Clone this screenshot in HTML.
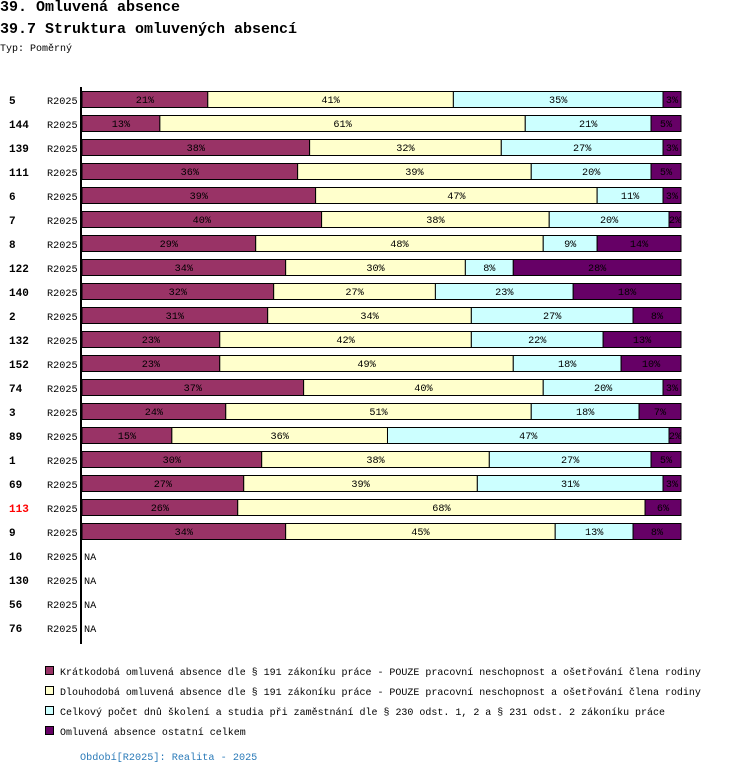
<!DOCTYPE html>
<html><head><meta charset="utf-8"><style>
body{margin:0;width:750px;height:774px;background:#fff;font-family:"Liberation Mono","DejaVu Sans Mono",monospace;position:relative;overflow:hidden}
.t{position:absolute;white-space:nowrap;color:#000}
</style></head><body>
<div class="t" style="left:0;top:-1px;font-size:15px;font-weight:bold">39. Omluvená absence</div>
<div class="t" style="left:0;top:21px;font-size:15px;font-weight:bold">39.7 Struktura omluvených absencí</div>
<div class="t" style="left:0;top:44px;font-size:10px">Typ: Poměrný</div>
<svg id="chart" width="750" height="774" style="position:absolute;left:0;top:0;font-family:'Liberation Mono',monospace;font-size:10.2px"></svg>
<script>
const categories=["5","144","139","111","6","7","8","122","140","2","132","152","74","3","89","1","69","113","9","10","130","56","76"];
const seriesShort=[21,13,38,36,39,40,29,34,32,31,23,23,37,24,15,30,27,26,34,null,null,null,null];
const seriesLong=[41,61,32,39,47,38,48,30,27,34,42,49,40,51,36,38,39,68,45,null,null,null,null];
const seriesTraining=[35,21,27,20,11,20,9,8,23,27,22,18,20,18,47,27,31,0,13,null,null,null,null];
const seriesOther=[3,5,3,5,3,2,14,28,18,8,13,10,3,7,2,5,3,6,8,null,null,null,null];
const colors=["#993366","#ffffcc","#ccffff","#660066"];
const highlight="113";
const svg=document.getElementById('chart');
const NS="http://www.w3.org/2000/svg";
const x0=82,x1=681;
const xs=v=>x0+(x1-x0)*v/100;
const yRow=i=>99+24*i;
function mk(tag,attrs){const e=document.createElementNS(NS,tag);for(const k in attrs)e.setAttribute(k,attrs[k]);svg.appendChild(e);return e;}
const axis=mk('line',{x1:81,x2:81,y1:87,y2:644,stroke:'#000','stroke-width':2});


const series=[seriesShort,seriesLong,seriesTraining,seriesOther];
categories.forEach((c,i)=>{
  const y=yRow(i);
  const lab=mk('text',{x:9,y:y+5,'font-weight':'bold',fill:c===highlight?'#ff0000':'#000','font-size':'11px'});
  lab.textContent=c;
  
  
  const per=mk('text',{x:47,y:y+5,fill:'#000'});
  per.textContent="R2025";
  
  
  if(seriesShort[i]===null){
    const na=mk('text',{x:84,y:y+5,fill:'#000'});na.textContent="NA";
    
    
    return;
  }
  let acc=0;
  series.forEach((s,k)=>{
    const v=s[i];if(!v){return;}
    const a=xs(acc),b=xs(acc+v);acc+=v;
    const r=mk('rect',{x:a,y:y-7.5,width:b-a,height:16,fill:colors[k],stroke:'#000','stroke-width':1});
    
    
    const t=mk('text',{x:(a+b)/2,y:y+4,'text-anchor':'middle',fill:'#000'});
    t.textContent=v+"%";
    
    
  });
});
const legend=["Krátkodobá omluvená absence dle § 191 zákoníku práce - POUZE pracovní neschopnost a ošetřování člena rodiny","Dlouhodobá omluvená absence dle § 191 zákoníku práce - POUZE pracovní neschopnost a ošetřování člena rodiny","Celkový počet dnů školení a studia při zaměstnání dle § 230 odst. 1, 2 a § 231 odst. 2 zákoníku práce","Omluvená absence ostatní celkem"];
legend.forEach((l,k)=>{
  const y=671+20*k;
  const r=mk('rect',{x:45.5,y:y-4.5,width:8,height:8,fill:colors[k],stroke:'#000'});
  
  
  const t=mk('text',{x:60,y:y+4,fill:'#000',textLength:(l.length*5.99).toFixed(1),lengthAdjust:'spacingAndGlyphs'});t.textContent=l;
  
  
});
const f=mk('text',{x:80,y:760,fill:'#2a7ab8'});f.textContent="Období[R2025]: Realita - 2025";


</script>
</body></html>
